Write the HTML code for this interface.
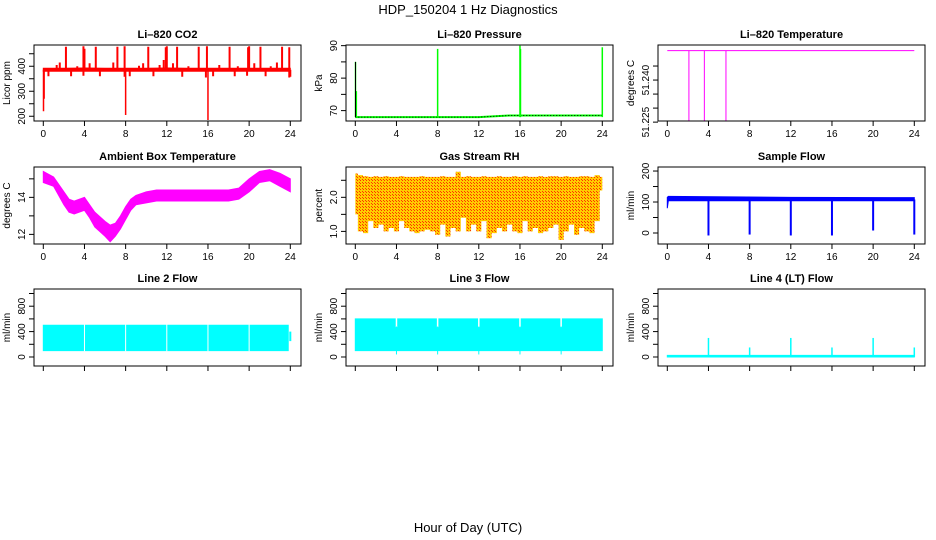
<!DOCTYPE html>
<html><head><meta charset="utf-8"><style>
html,body{margin:0;padding:0;background:#fff;}
svg{display:block;font-family:"Liberation Sans",Arial,sans-serif;}
</style></head><body>
<svg id="c" width="936" height="540" viewBox="0 0 936 540">
<defs>
<pattern id="rhpat" width="3" height="3" patternUnits="userSpaceOnUse">
<rect width="3" height="3" fill="#ffcc00"/><rect width="1" height="1" fill="#ff3300"/><rect x="2" y="2" width="1" height="1" fill="#ff3300"/>
</pattern>
</defs>
<text x="468" y="14" text-anchor="middle" font-size="13">HDP_150204  1 Hz Diagnostics</text>
<text x="468" y="532" text-anchor="middle" font-size="13">Hour of Day (UTC)</text>
</svg>
<script>
// ---- data ----
const xTicks = [0,4,8,12,16,20,24];
const co2Hours = [0,2,4,6,8,10,12,14,16,18,20,22,24];
const co2Hi = [392,392,393,392,392,392,393,392,392,392,392,392,392];
const co2Lo = [380,380,380,380,380,380,380,380,380,380,380,380,380];
const co2SpikeH = [2.2,3.9,4.0,5.1,7.2,7.9,10.2,11.9,12.0,13.0,15.1,15.9,18.1,19.9,20.0,21.1,23.2,23.9];
const co2SpikeV = [478,480,470,478,478,480,478,476,480,478,478,480,478,476,480,478,478,476];
const co2SmallH = [1.3,1.6,3.3,4.5,6.8,9.3,9.7,11.3,11.7,12.6,14.1,17.1,18.9,20.5,22.1,22.7];
const co2SmallV = [405,415,400,412,415,402,412,405,425,412,400,405,400,412,400,415];
const co2DipH = [0.5,2.7,3.9,5.5,7.9,8.4,10.7,13.5,15.8,16.5,18.6,19.8,21.6,23.9,24.0];
const co2DipV = [360,360,362,360,358,360,360,358,355,360,360,362,360,355,358];
const co2BigH = [0.02,0.08,8.0,16.0];
const co2BigV = [220,270,205,185];

const presHours = [0,4,8,12,15,16,20,24];
const presBase = [68,68,68,68,68.5,68.5,68.5,68.5];
const presSpikeH = [0.02,0.1,8.0,16.0,16.05,24.0];
const presSpikeV = [85,76,89,90,89,89.5];

const tempHours = [0,24];
const tempVals = [51.2505,51.2505];
const tempSpikeH = [2.1,3.6,5.7];
const tempSpikeV = [51.2254,51.2254,51.2254];

const ambHours = [0,1,2,2.5,3,4,4.5,5,6,6.5,7,7.5,8,8.5,9,10,11,12,14,16,18,19,20,21,22,23,24];
const ambHi = [15.4,15.1,14.3,13.9,13.8,14.0,13.6,13.2,12.7,12.5,12.6,13.0,13.5,13.9,14.1,14.3,14.4,14.4,14.4,14.4,14.4,14.5,15.0,15.4,15.5,15.3,15.0];
const ambLo = [14.8,14.6,13.6,13.2,13.1,13.3,12.9,12.4,11.9,11.6,11.9,12.3,12.8,13.3,13.6,13.7,13.8,13.8,13.8,13.8,13.8,13.9,14.3,14.8,14.9,14.6,14.3];

const rhHi = [2.7,2.65,2.62,2.6,2.62,2.6,2.62,2.6,2.6,2.62,2.6,2.6,2.6,2.62,2.6,2.6,2.6,2.62,2.6,2.6,2.75,2.6,2.62,2.6,2.6,2.62,2.6,2.6,2.62,2.6,2.6,2.62,2.6,2.62,2.6,2.6,2.62,2.6,2.62,2.62,2.6,2.62,2.6,2.6,2.62,2.62,2.6,2.65,2.6];
const rhLo = [1.5,1.0,0.95,1.3,1.1,1.2,1.0,1.1,1.0,1.3,1.1,1.0,0.95,1.0,1.05,1.0,0.9,1.2,0.85,1.1,1.0,1.4,1.0,1.2,1.0,1.3,0.8,0.95,1.1,1.0,1.2,1.0,0.95,1.3,1.0,1.1,0.95,1.0,1.1,1.2,0.75,1.0,1.2,0.9,1.1,1.0,0.95,1.3,2.2];

const flowHours = [0,0.1,12,24];
const flowHi = [115,118,115,114];
const flowLo = [80,104,104,104];
const flowDipH = [4,8,12,16,20,24];
const flowDipV = [-8,-5,-8,-8,8,-5];

const l2Hours = [0,23.8];
const l2Hi = [500,500];
const l2Lo = [100,100];
const l3Hours = [0,24];
const l3Hi = [600,600];
const l3Lo = [100,100];
const gapH = [4,8,12,16,20];
const l4Hours = [0,24];
const l4Hi = [25,25];
const l4Lo = [0,0];
const l4SpikeH = [4,8,12,16,20,24];
const l4SpikeV = [300,150,300,150,300,150];

// ---- drawing ----
const svg = document.getElementById('c');
const NS = 'http://www.w3.org/2000/svg';
function mk(tag, attrs, parent){
  const e = document.createElementNS(NS, tag);
  for (const k in attrs) e.setAttribute(k, attrs[k]);
  (parent||svg).appendChild(e);
  return e;
}
const rows = [[45,121],[167,244],[289,366]];
function panel(col,row,title,ylab,ymin,ymax,yTicks,yLabels,showX,name){
  const L = 34 + 312*col, R = L + 267, T = rows[row][0], B = rows[row][1];
  const x0 = L + 9.3, xs = 247/24;
  const X = h => x0 + h*xs;
  const Y = v => B - (v - ymin)/(ymax - ymin)*(B - T);
  const g = mk('g',{});
  
  
  const t = mk('text',{x:(L+R)/2,y:T-7,'text-anchor':'middle','font-size':11,'font-weight':'bold'},g);
  t.textContent = title;
  
  
  const yl = mk('text',{x:0,y:0,'text-anchor':'middle','font-size':10,transform:`translate(${L-24},${(T+B)/2}) rotate(-90)`},g);
  yl.textContent = ylab;
  
  
  yTicks.forEach(v=>{
    const y = Y(v);
    mk('line',{x1:L-5,x2:L,y1:y,y2:y,stroke:'#000','stroke-width':1},g);
  });
  yLabels.forEach(s=>{
    const y = Y(parseFloat(s));
    const lt = mk('text',{x:0,y:0,'text-anchor':'middle','font-size':10,transform:`translate(${L-9},${y}) rotate(-90)`},g);
    lt.textContent = s;
    
    
  });
  xTicks.forEach(h=>{
    mk('line',{x1:X(h),x2:X(h),y1:B,y2:B+5,stroke:'#000','stroke-width':1},g);
    if (showX){
      const xt = mk('text',{x:X(h),y:B+16,'text-anchor':'middle','font-size':10},g);
      xt.textContent = h;
      
      
    }
  });
  const data = mk('g',{},g);
  const box = mk('rect',{x:L,y:T,width:R-L,height:B-T,fill:'none',stroke:'#000','stroke-width':1},g);
  
  
  return {X,Y,g:data,L,R,T,B};
}
function band(p,hours,hi,lo,fill,name){
  let pts = hours.map((h,i)=>p.X(h)+','+p.Y(hi[i]));
  for (let i=hours.length-1;i>=0;i--) pts.push(p.X(hours[i])+','+p.Y(lo[i]));
  const e = mk('polygon',{points:pts.join(' '),fill:fill,stroke:fill,'stroke-width':1},p.g);
  
  
}
function stepBand(p,hi,lo,step,fill,name){
  let pts=[];
  hi.forEach((v,i)=>{const a=p.X(Math.max(0,i*step-step/2)),b=p.X(Math.min(24,i*step+step/2));pts.push(a+','+p.Y(v),b+','+p.Y(v));});
  for(let i=lo.length-1;i>=0;i--){const a=p.X(Math.max(0,i*step-step/2)),b=p.X(Math.min(24,i*step+step/2));pts.push(b+','+p.Y(lo[i]),a+','+p.Y(lo[i]));}
  const e = mk('polygon',{points:pts.join(' '),fill:fill},p.g);
  
  
}
function spikes(p,hs,vs,base,color,w,name){
  hs.forEach((h,i)=>{
    const e = mk('line',{x1:p.X(h),x2:p.X(h),y1:p.Y(base),y2:p.Y(vs[i]),stroke:color,'stroke-width':w},p.g);
    
    
  });
}
function line(p,hours,vals,color,w,name,dash){
  const e = mk('polyline',{points:hours.map((h,i)=>p.X(h)+','+p.Y(vals[i])).join(' '),fill:'none',stroke:color,'stroke-width':w},p.g);
  if(dash) e.setAttribute('stroke-dasharray',dash);
  
  
}

// CO2
let p = panel(0,0,'Li\u2013820 CO2','Licor ppm',181,485,[200,250,300,350,400,450],['200','300','400'],true,'co2');
band(p,co2Hours,co2Hi,co2Lo,'#ff0000','co2-band');
spikes(p,co2SpikeH,co2SpikeV,386,'#ff0000',2,'co2-spike');
spikes(p,co2SmallH,co2SmallV,386,'#ff0000',2,'co2-small-spike');
spikes(p,co2DipH,co2DipV,386,'#ff0000',2,'co2-dip');
spikes(p,co2BigH,co2BigV,386,'#ff0000',1.5,'co2-big-dip');

// Pressure
p = panel(1,0,'Li\u2013820 Pressure','kPa',66.8,90.2,[70,75,80,85,90],['70','80','90'],true,'pressure');
line(p,presHours,presBase,'#00ff00',2,'pressure-line');
line(p,presHours,presBase,'#000',1,'pressure-dotted','1,2');
spikes(p,presSpikeH,presSpikeV,68,'#00ff00',1.5,'pressure-spike');
spikes(p,[0.02],[85],68,'#000',1,'pressure-spike-black');

// Temperature
p = panel(2,0,'Li\u2013820 Temperature','degrees C',51.2254,51.2525,[51.225,51.23,51.235,51.24,51.245],['51.225','51.240'],true,'li820-temp');
line(p,tempHours,tempVals,'#ff00ff',1,'temp-line');
spikes(p,tempSpikeH,tempSpikeV,51.2505,'#ff00ff',1,'temp-spike');

// Ambient
p = panel(0,1,'Ambient Box Temperature','degrees C',11.48,15.64,[12,13,14,15],['12','14'],true,'ambient');
band(p,ambHours,ambHi,ambLo,'#ff00ff','ambient-band');

// RH
p = panel(1,1,'Gas Stream RH','percent',0.63,2.89,[1,1.5,2,2.5],['1.0','2.0'],true,'rh');
stepBand(p,rhHi,rhLo,0.5,'url(#rhpat)','rh-band');

// Sample flow
p = panel(2,1,'Sample Flow','ml/min',-35.5,213,[0,50,100,150,200],['0','100','200'],true,'sample-flow');
band(p,flowHours,flowHi,flowLo,'#0000ff','sample-flow-band');
spikes(p,flowDipH,flowDipV,108,'#0000ff',2,'sample-flow-dip');

// Line 2
p = panel(0,2,'Line 2 Flow','ml/min',-142,1071,[0,200,400,600,800,1000],['0','400','800'],false,'line2');
band(p,l2Hours,l2Hi,l2Lo,'#00ffff','line2-band');
spikes(p,gapH,[520,520,520,520,520],90,'#ffffff',1,'line2-gap');
spikes(p,[24],[400],250,'#00ffff',2,'line2-end');

// Line 3
p = panel(1,2,'Line 3 Flow','ml/min',-142,1071,[0,200,400,600,800,1000],['0','400','800'],false,'line3');
band(p,l3Hours,l3Hi,l3Lo,'#00ffff','line3-band');
spikes(p,gapH,[620,620,620,620,620],470,'#ffffff',1.5,'line3-gap');
spikes(p,gapH,[40,40,40,40,40],480,'#00ffff',1,'line3-dip');

// Line 4
p = panel(2,2,'Line 4 (LT) Flow','ml/min',-142,1071,[0,200,400,600,800,1000],['0','400','800'],false,'line4');
band(p,l4Hours,l4Hi,l4Lo,'#00ffff','line4-band');
spikes(p,l4SpikeH,l4SpikeV,0,'#00ffff',1.5,'line4-spike');
</script>
</body></html>
